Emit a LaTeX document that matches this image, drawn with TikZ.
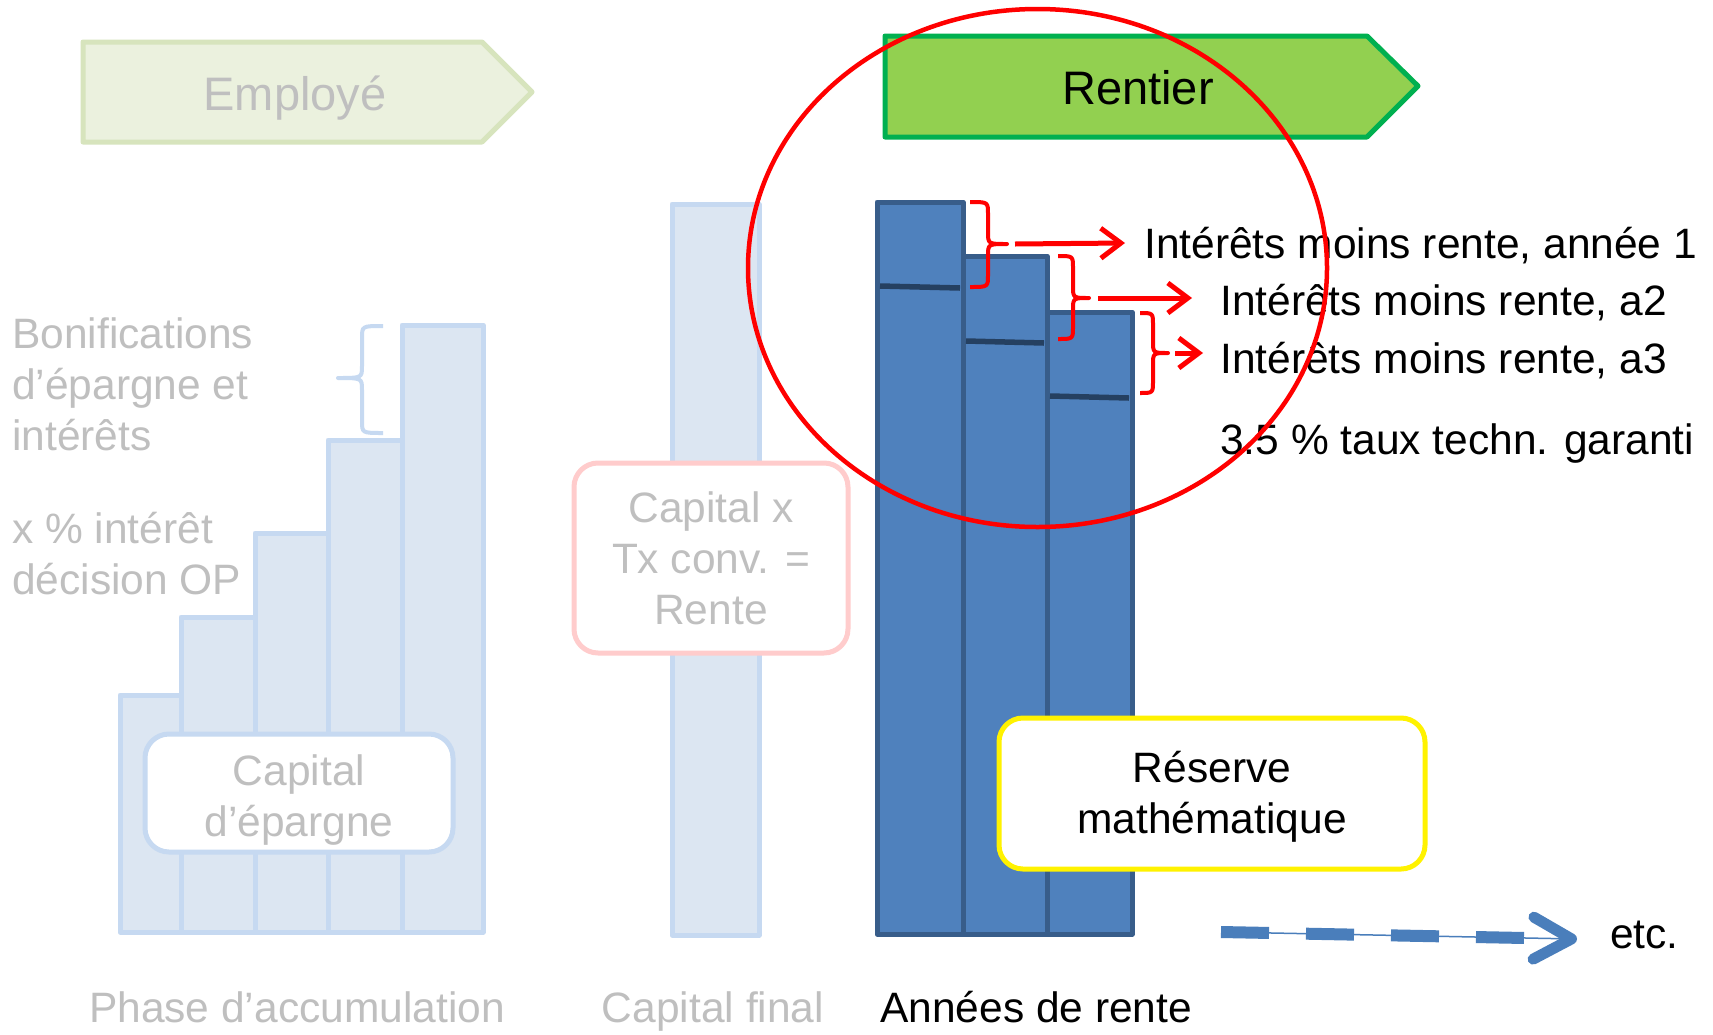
\documentclass[tikz,border=0pt]{standalone}
\usepackage{fontspec}
\setmainfont{Liberation Sans}
\usetikzlibrary{arrows.meta}
\definecolor{lbfill}{HTML}{DCE6F2}
\definecolor{lbline}{HTML}{C6D9F1}
\definecolor{dbfill}{HTML}{4F81BD}
\definecolor{dbline}{HTML}{385D8A}
\definecolor{dbsep}{HTML}{254061}
\definecolor{ghost}{HTML}{BFBFBF}
\definecolor{empfill}{HTML}{EBF1DE}
\definecolor{empline}{HTML}{D7E4BD}
\definecolor{renfill}{HTML}{92D050}
\definecolor{renline}{HTML}{00B050}
\definecolor{pinkline}{HTML}{FFCCCC}
\definecolor{arrowblue}{HTML}{4A7EBB}
\begin{document}
\begin{tikzpicture}[x=1pt,y=-1pt,line join=round,
  bodytext/.style={font=\fontsize{42.5}{51}\selectfont, inner sep=0pt},
  headtext/.style={font=\fontsize{47}{56}\selectfont, inner sep=0pt},
  ghosttext/.style={bodytext, text=ghost},
  lbar/.style={fill=lbfill, draw=lbline, line width=5pt},
  dbar/.style={fill=dbfill, draw=dbline, line width=5pt},
  dsep/.style={draw=dbsep, line width=5.5pt},
  roundbox/.style={rounded corners=24pt, fill=white, line width=5pt, inner sep=0pt},
  boxtext/.style={bodytext, align=center},
  redbrace/.style={draw=red, line width=4pt},
  redarr/.style={draw=red, line width=5pt, -{Straight Barb[length=20pt,width=30pt]}},
  bracep/.style n args={6}{insert path={(#1,#4) .. controls (#2,#4) .. (#2,{#4+12}) -- (#2,{#5-12}) .. controls (#2,#5) .. (#3,#5) .. controls (#2,#5) .. (#2,{#5+12}) -- (#2,{#6-12}) .. controls (#2,#6) .. (#1,#6)}}
]
\useasboundingbox[fill=white] (0,0) rectangle (1713,1034);

% ---------- Phase d'accumulation (faded) ----------
\path[lbar] (120,695) rectangle (181,932);
\path[lbar] (181,617) rectangle (255,932);
\path[lbar] (255,533) rectangle (328,932);
\path[lbar] (328,440) rectangle (402,932);
\path[lbar] (402,325) rectangle (483,932);
\draw[draw=lbline, line width=4pt, bracep={383}{362}{338}{326}{378}{433}];
\node[roundbox, draw=lbline, minimum width=308pt, minimum height=118pt] (capbox) at (299,793) {};
\node[boxtext, text=ghost] (captxt) at (299,799.5) {Capital\\d’épargne};

\node[ghosttext, anchor=base west] (bon1) at (12,348) {Bonifications};
\node[ghosttext, anchor=base west] (bon2) at (12,399) {d’épargne et};
\node[ghosttext, anchor=base west] (bon3) at (12,450) {intérêts};
\node[ghosttext, anchor=base west] (xp1) at (12,543) {x \% intérêt};
\node[ghosttext, anchor=base west] (xp2) at (12,594) {décision OP};

% ---------- Capital final (faded) ----------
\path[lbar] (672,204) rectangle (759,935);
\node[roundbox, draw=pinkline, minimum width=274pt, minimum height=190pt] (convbox) at (711,558) {};
\node[boxtext, text=ghost] (convtxt) at (711,558) {Capital x\\Tx conv. =\\Rente};

% ---------- Années de rente ----------
\path[dbar] (877,202) rectangle (963,934);
\path[dbar] (963,256) rectangle (1047,934);
\path[dbar] (1047,312) rectangle (1132,934);
\draw[dsep] (880,286) -- (960,288);
\draw[dsep] (966,341) -- (1044,343);
\draw[dsep] (1050,396) -- (1129,398);
\node[roundbox, draw=yellow, minimum width=426pt, minimum height=151pt] (resbox) at (1212,793.5) {};
\node[boxtext, text=black] (restxt) at (1212,797) {Réserve\\mathématique};

% ---------- headers ----------
\draw[fill=empfill, draw=empline, line width=5pt] (83,42) -- (482,42) -- (532,92) -- (482,142) -- (83,142) -- cycle;
\node[headtext, text=ghost, anchor=base] (emp) at (295,110) {Employé};
\draw[fill=renfill, draw=renline, line width=5pt] (885,36) -- (1367,36) -- (1418,86) -- (1367,137) -- (885,137) -- cycle;
\node[headtext, text=black, anchor=base] (ren) at (1138,104) {Rentier};

% ---------- red braces and arrows ----------
\draw[redbrace, bracep={970}{988}{1007}{202}{244}{287}];
\draw[redbrace, bracep={1058}{1073}{1089}{256}{298}{339}];
\draw[redbrace, bracep={1140}{1153}{1168}{313}{353}{393}];
\coordinate (b1tip) at (1015,244);
\coordinate (b2tip) at (1098,298);
\coordinate (b3tip) at (1175,353);
\coordinate (a1end) at (1125,243);
\coordinate (a2end) at (1192,298);
\coordinate (a3end) at (1203,353);
\draw[redarr] (b1tip) -- (a1end);
\draw[redarr] (b2tip) -- (a2end);
\draw[redarr] (b3tip) -- (a3end);

\node[bodytext, anchor=base west] (lab1) at (1144,258) {Intérêts moins rente, année 1};
\node[bodytext, anchor=base west] (lab2) at (1220,315) {Intérêts moins rente, a2};
\node[bodytext, anchor=base west] (lab3) at (1220,373) {Intérêts moins rente, a3};
\node[bodytext, anchor=base west] (lab4) at (1220,454) {3.5 \% taux techn. garanti};

% ---------- red ellipse ----------
\draw[red, line width=4.5pt] (1037.5,268) ellipse [x radius=289.5, y radius=259];

% ---------- etc. arrow ----------
\coordinate (ds) at (1221,932);
\coordinate (dm) at (1525,938);
\coordinate (de) at (1577,939);
\draw[arrowblue, line width=1.5pt, -{Straight Barb[length=38pt,width=42pt,line width=11pt,round]}] (ds) -- (de);
\draw[arrowblue, line width=12pt, dash pattern=on 48pt off 37pt] (ds) -- (dm);
\node[bodytext, anchor=base west] (etc) at (1610,948) {etc.};

% ---------- bottom labels ----------
\node[ghosttext, anchor=base] (phase) at (297,1022) {Phase d’accumulation};
\node[ghosttext, anchor=base] (capfin) at (713,1022) {Capital final};
\node[bodytext, anchor=base west] (annees) at (880,1022) {Années de rente};
\end{tikzpicture}
\end{document}
